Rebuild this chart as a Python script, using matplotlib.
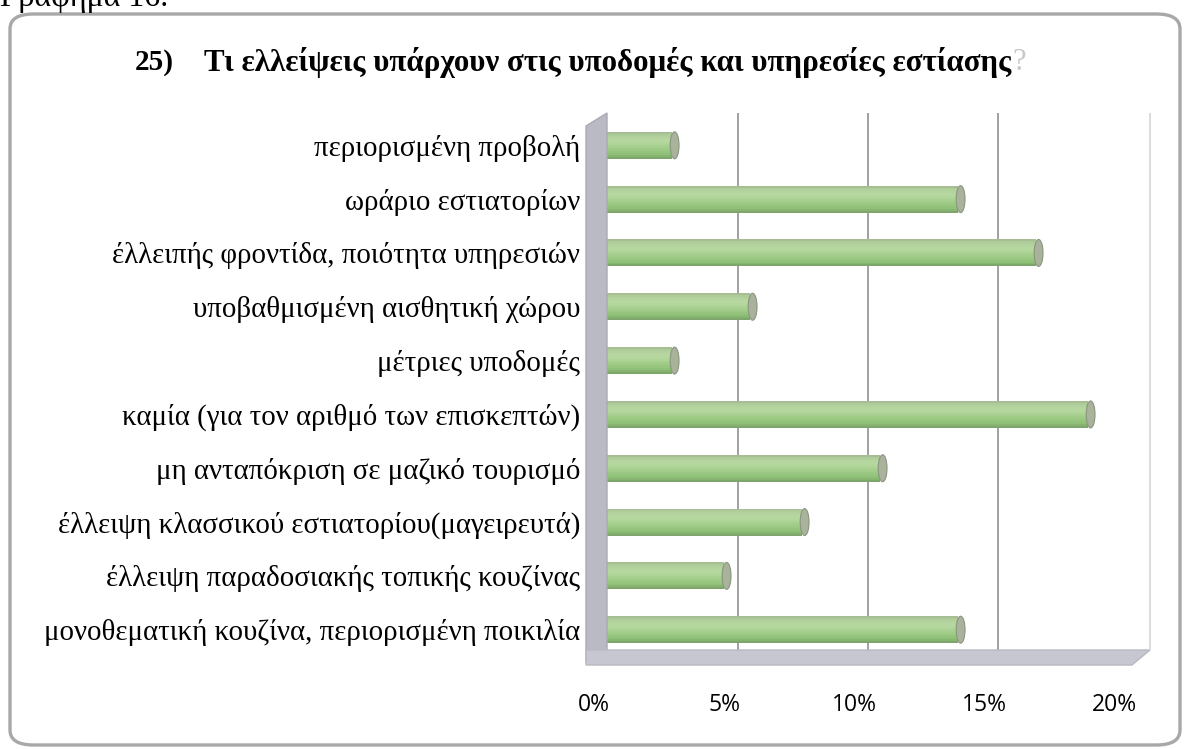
import matplotlib
matplotlib.use("Agg")
import matplotlib.pyplot as plt
import numpy as np
from matplotlib.patches import FancyBboxPatch, Polygon, Ellipse
from matplotlib.transforms import ScaledTranslation, blended_transform_factory
from matplotlib.colors import LinearSegmentedColormap

categories = [
    "μονοθεματική κουζίνα, περιορισμένη ποικιλία",
    "έλλειψη παραδοσιακής τοπικής κουζίνας",
    "έλλειψη κλασσικού εστιατορίου(μαγειρευτά)",
    "μη ανταπόκριση σε μαζικό τουρισμό",
    "καμία (για τον αριθμό των επισκεπτών)",
    "μέτριες υποδομές",
    "υποβαθμισμένη αισθητική χώρου",
    "έλλειπής φροντίδα, ποιότητα υπηρεσιών",
    "ωράριο εστιατορίων",
    "περιορισμένη προβολή",
]
values = [14, 5, 8, 11, 19, 3, 6, 17, 14, 3]
xticks = [0, 5, 10, 15, 20]
xticklabels = ["0%", "5%", "10%", "15%", "20%"]
title_num = "25)"
title_text = "Τι ελλείψεις υπάρχουν στις υποδομές και υπηρεσίες εστίασης"
caption = "Γράφημα 16."

W, H = 1184, 749
fig = plt.figure(figsize=(W / 100, H / 100), dpi=100)
fig.patch.set_facecolor("white")

def fx(x):
    return x / W

def fy(y):
    return 1 - y / H

serif = ["Liberation Serif", "DejaVu Serif"]
sans = ["Open Sans", "DejaVu Sans"]

# outer rounded frame
frame = FancyBboxPatch((fx(10), fy(745)), fx(1170), fy(14) - fy(745),
                       boxstyle="round,pad=0,rounding_size=0.02",
                       transform=fig.transFigure, facecolor="white",
                       edgecolor="#a8a8a8", linewidth=2.4, zorder=0)
fig.add_artist(frame)

# caption (cut at the top edge, as in the source)
fig.text(fx(0), fy(6), caption, fontsize=23, family=serif,
         ha="left", va="baseline", color="black")

# axes
ax_left, ax_right = 594, 1114
ax_top, ax_bot = 113, 662
ax = fig.add_axes([fx(ax_left), fy(ax_bot), fx(ax_right - ax_left), (ax_bot - ax_top) / H])
ax.set_xlim(0, 20)
ax.set_ylim(-0.6, len(categories) - 0.4)
ax.patch.set_alpha(0)
for s in ax.spines.values():
    s.set_visible(False)

# title
fig.text(fx(135), fy(62), title_num, fontsize=21, family=serif,
         fontweight="bold", ha="left", va="center")
t2 = fig.text(fx(204), fy(62), title_text, fontsize=22.3, family=serif,
              fontweight="bold", ha="left", va="center")
ax.annotate("?", xy=(1, 0.5), xycoords=t2, xytext=(1, 0),
            textcoords="offset points", fontsize=22, family=serif,
            color="#c8c8c8", ha="left", va="center", annotation_clip=False)

# 3D-like walls (decoration, figure pixels)
left_wall = Polygon([[fx(586), fy(126)], [fx(607), fy(113)], [fx(607), fy(650)],
                     [fx(586), fy(662)]], closed=True, transform=fig.transFigure,
                    facecolor="#b9bac3", edgecolor="#a9aab3", lw=1, zorder=1)
floor = Polygon([[fx(586), fy(650)], [fx(1150), fy(650)], [fx(1132), fy(665)],
                 [fx(586), fy(665)]], closed=True, transform=fig.transFigure,
                facecolor="#c6c7d0", edgecolor="#b8b9c2", lw=1, zorder=1)
right_edge = Polygon([[fx(1149), fy(113)], [fx(1151), fy(113)], [fx(1151), fy(650)],
                      [fx(1149), fy(650)]], closed=True, transform=fig.transFigure,
                     facecolor="#dcdcdc", edgecolor="none", zorder=1)
fig.add_artist(left_wall)
fig.add_artist(floor)
fig.add_artist(right_edge)

# gridlines on the back wall (shifted for depth)
off = ScaledTranslation(14 / 100, 0, fig.dpi_scale_trans)
gtrans = blended_transform_factory(ax.transData + off, ax.transAxes)
ax.vlines(xticks[1:], (ax_bot - 650) / (ax_bot - ax_top), 1.0, transform=gtrans,
          colors="#9a9a9a", linewidth=1.3, zorder=2)

# cylinder-like bars: shaded strips
cmap = LinearSegmentedColormap.from_list(
    "cyl", [(0.0, "#a3b591"), (0.12, "#b0cf9a"), (0.35, "#b7d9a1"),
            (0.6, "#a2cd8a"), (0.85, "#8dbf75"), (1.0, "#7a9d67")])
y = np.arange(len(categories))
bar_h = 0.5
nstrip = 14
for k in range(nstrip):
    frac = (k + 0.5) / nstrip
    ax.barh(y + bar_h / 2 - (k + 0.5) * bar_h / nstrip, values,
            height=bar_h / nstrip * 1.05, left=0, color=cmap(frac),
            linewidth=0, zorder=3)
for yi, v in zip(y, values):
    ax.add_patch(Ellipse((v + 0.1, yi), 0.34, bar_h, facecolor="#a9b39c",
                         edgecolor="#8a957f", lw=0.8, zorder=6))

ax.set_yticks(y)
ax.set_yticklabels(categories, family=serif, fontsize=20.8)
ax.set_xticks(xticks)
ax.set_xticklabels(xticklabels, family=sans, fontsize=16.5)
ax.tick_params(axis="y", length=0, pad=10)
ax.tick_params(axis="x", length=0, pad=22)

fig.savefig("out.png", dpi=100)
